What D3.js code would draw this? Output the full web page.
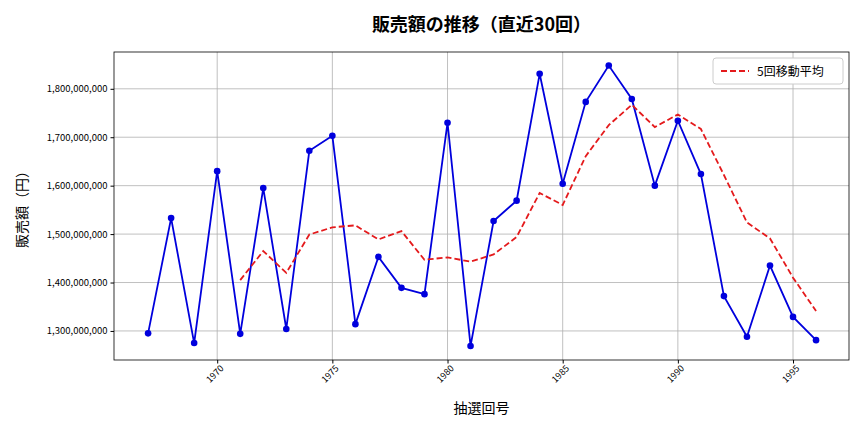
<!DOCTYPE html>
<html>
<head>
<meta charset="utf-8">
<script src="https://cdn.jsdelivr.net/npm/d3@7"></script>
<style>
  body { margin: 0; background: #fff; }
  text { font-family: "Noto Sans CJK JP", "DejaVu Sans", sans-serif; }
</style>
</head>
<body>
<svg id="chart"></svg>
<script>
// draw number (x) and sales (millions of yen)
const draws = [1967,1968,1969,1970,1971,1972,1973,1974,1975,1976,1977,1978,1979,1980,1981,
               1982,1983,1984,1985,1986,1987,1988,1989,1990,1991,1992,1993,1994,1995,1996];
const sales = [1295,1533,1275,1630,1294,1595,1304,1672,1703,1314,1453,1389,1376,1730,1269,
               1527,1569,1831,1604,1773,1848,1779,1600,1734,1624,1372,1288,1435,1329,1281];
const maDraws = draws.slice(4);
const ma5 = [1405,1465,1420,1499,1514,1518,1489,1506,1447,1452,1443,1458,1494,1585,1560,
             1661,1725,1767,1721,1747,1717,1622,1524,1491,1410,1341];
const xTicks = [1970,1975,1980,1985,1990,1995];
const yTicks = [1300,1400,1500,1600,1700,1800];

const width = 864, height = 432;
const margin = {top: 52, right: 15, bottom: 72, left: 114};
const iw = width - margin.left - margin.right;
const ih = height - margin.top - margin.bottom;

const svg = d3.select('#chart').attr('width', width).attr('height', height);
const chart = svg.append('g').attr('transform', `translate(${margin.left},${margin.top})`);

const xscale = d3.scaleLinear().domain([1965.52, 1997.43]).range([0, iw]);
const yscale = d3.scaleLinear().domain([1240, 1876]).range([ih, 0]);

// grid
chart.append('g').selectAll('line').data(xTicks).join('line')
    .attr('x1', d => xscale(d)).attr('x2', d => xscale(d))
    .attr('y1', 0).attr('y2', ih)
    .attr('stroke', '#b0b0b0').attr('stroke-width', 0.8);
chart.append('g').selectAll('line').data(yTicks).join('line')
    .attr('y1', d => yscale(d)).attr('y2', d => yscale(d))
    .attr('x1', 0).attr('x2', iw)
    .attr('stroke', '#b0b0b0').attr('stroke-width', 0.8);

// axes
const xaxis = d3.axisBottom(xscale).tickValues(xTicks).tickFormat(d3.format('d')).tickSizeOuter(0).tickSize(3.5);
const yaxis = d3.axisLeft(yscale).tickValues(yTicks).tickFormat(d => d3.format(',')(d * 1e6)).tickSizeOuter(0).tickSize(3.5);

const xg = chart.append('g').attr('transform', `translate(0,${ih})`).call(xaxis);
xg.select('.domain').remove();
xg.selectAll('text')
    .attr('font-size', 9).attr('text-anchor', 'end')
    .attr('dx', '-0.2em').attr('dy', '0.5em')
    .attr('transform', 'rotate(-45)');
const yg = chart.append('g').call(yaxis);
yg.select('.domain').remove();
yg.selectAll('text').attr('font-size', 9.5);

chart.append('rect').attr('width', iw).attr('height', ih)
    .attr('fill', 'none').attr('stroke', '#000').attr('stroke-width', 0.8);

// series
const line = d3.line().x(d => xscale(d[0])).y(d => yscale(d[1]));
const salesPts = draws.map((d, i) => [d, sales[i]]);
chart.append('path').datum(salesPts).attr('d', line)
    .attr('fill', 'none').attr('stroke', '#0000dd').attr('stroke-width', 1.8);
chart.append('g').selectAll('circle').data(salesPts).join('circle')
    .attr('cx', d => xscale(d[0])).attr('cy', d => yscale(d[1])).attr('r', 3.3)
    .attr('fill', '#0000dd');

const maPts = maDraws.map((d, i) => [d, ma5[i]]);
chart.append('path').datum(maPts).attr('d', line)
    .attr('fill', 'none').attr('stroke', '#e41a1c').attr('stroke-width', 1.8)
    .attr('stroke-dasharray', '6,3');

// legend
const lg = chart.append('g').attr('transform', `translate(${iw - 136},6)`);
lg.append('rect').attr('width', 130).attr('height', 26).attr('rx', 3)
    .attr('fill', '#fff').attr('stroke', '#ccc');
lg.append('line').attr('x1', 8).attr('x2', 36).attr('y1', 13).attr('y2', 13)
    .attr('stroke', '#e41a1c').attr('stroke-width', 1.8).attr('stroke-dasharray', '6,3');
lg.append('text').attr('x', 44).attr('y', 18).attr('font-size', 12).text('5回移動平均');

// titles
svg.append('text').attr('x', margin.left + iw / 2).attr('y', 31)
    .attr('text-anchor', 'middle').attr('font-size', 18).attr('font-weight', 'bold')
    .text('販売額の推移（直近30回）');
svg.append('text').attr('x', margin.left + iw / 2).attr('y', 413)
    .attr('text-anchor', 'middle').attr('font-size', 14).text('抽選回号');
svg.append('text').attr('transform', `translate(27,${margin.top + ih / 2}) rotate(-90)`)
    .attr('text-anchor', 'middle').attr('font-size', 14).text('販売額（円）');
</script>
</body>
</html>
